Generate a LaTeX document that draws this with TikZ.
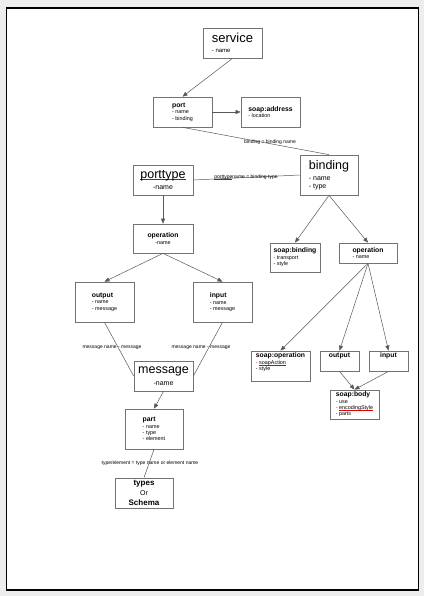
\documentclass[tikz,border=0pt]{standalone}
\usepackage{fontspec}
\setmainfont{Liberation Sans}
\usepackage{xcolor}
\usetikzlibrary{arrows.meta}

\newcommand{\bigtxt}{\fontsize{12.5}{13}\selectfont}
\newcommand{\subtxt}{\fontsize{7}{8}\selectfont}
\newcommand{\headtxt}{\fontsize{6.8}{7.5}\selectfont\bfseries}
\newcommand{\itemtxt}{\fontsize{5.4}{6.2}\selectfont}
\newcommand{\reddash}{{\color{red!85!black}-}}
\newcommand{\spellmark}[1]{\setbox0\hbox{#1}\rlap{\color{red!85!black}\rule[-0.9pt]{\wd0}{0.35pt}}\box0}

\begin{document}
\begin{tikzpicture}[x=1pt, y=-1pt,
    box/.style={draw=black!55, line width=0.7pt, fill=white, inner sep=2pt, align=left, font=\itemtxt},
    link/.style={draw=black!65, line width=0.5pt},
    arr/.style={link, -{Triangle[length=5pt, width=4pt]}},
    lbl/.style={font=\fontsize{5}{5.5}\selectfont, inner sep=0.5pt}]
    \useasboundingbox (0,0) rectangle (424,596);

    % Page
    \fill[black!7] (0,0) rectangle (424,596);
    \draw[fill=white, line width=1.1pt] (6.5,8) rectangle (418.5,590);

    % Service and port
    \node[box, minimum width=59pt, minimum height=30pt] (service) at (232.5,43)
        {{\fontsize{13}{13}\selectfont service}\\[3.5pt]{\fontsize{6}{7}\selectfont - name}};
    \node[box, minimum width=59pt, minimum height=30pt] (port) at (182.5,112)
        {{\headtxt port}\\[0.5pt]- name\\- binding};
    \node[box, minimum width=59pt, minimum height=30pt] (soapaddr) at (270.5,112)
        {{\headtxt soap:address}\\[0.5pt]- location};

    % Binding and porttype
    \node[box, minimum width=58pt, minimum height=40pt] (binding) at (329,175)
        {{\bigtxt binding}\\[4pt]{\subtxt - name}\\[2pt]{\subtxt - type}};
    \node[box, align=center, minimum width=60pt, minimum height=30pt] (porttype) at (163,180)
        {{\bigtxt \spellmark{porttype}}\\[4pt]{\subtxt -name}};

    % Port type side
    \node[box, align=center, minimum width=60pt, minimum height=29pt] (opleft) at (163,238.5)
        {{\headtxt operation}\\[0.5pt]-name};
    \node[box, minimum width=59pt, minimum height=40pt] (outleft) at (104.5,302)
        {{\headtxt output}\\[0.5pt]- name\\- message};
    \node[box, minimum width=59pt, minimum height=40pt] (inleft) at (222.5,302)
        {{\headtxt input}\\[0.5pt]- name\\- message};
    \node[box, align=center, minimum width=59pt, minimum height=30pt] (message) at (163.5,376)
        {{\bigtxt message}\\[4pt]{\subtxt -name}};
    \node[box, minimum width=58pt, minimum height=40pt] (part) at (154,429)
        {{\headtxt part}\\[0.5pt]- name\\- type\\- element};
    \node[box, align=center, minimum width=58pt, minimum height=30pt] (types) at (144,493)
        {{\fontsize{8}{8}\selectfont\bfseries types}\\[2.5pt]{\subtxt Or}\\[3pt]{\fontsize{8}{8}\selectfont\bfseries Schema}};

    % Binding side
    \node[box, minimum width=50pt, minimum height=29pt] (soapbind) at (295,257.5)
        {{\headtxt soap:binding}\\[0.5pt]- transport\\- style};
    \node[box, minimum width=58pt, minimum height=20pt] (opright) at (368,253)
        {{\headtxt operation}\\[0.5pt]- name};
    \node[box, minimum width=59pt, minimum height=30pt] (soapop) at (280.5,366)
        {{\headtxt soap:operation}\\[0.5pt]\reddash{} \spellmark{soapAction}\\- style\\[2pt]};
    \node[box, align=center, minimum width=39pt, minimum height=20pt] (outright) at (339.5,361)
        {{\headtxt output}\\[5pt]};
    \node[box, align=center, minimum width=39pt, minimum height=20pt] (inright) at (388.5,361)
        {{\headtxt input}\\[5pt]};
    \node[box, minimum width=49pt, minimum height=29pt] (soapbody) at (354.5,404.5)
        {{\headtxt soap:body}\\[0.5pt]\reddash{} use\\\reddash{} \spellmark{encodingStyle}\\- parts};

    % Connectors
    \draw[arr] (service.south) -- (port.north);
    \draw[arr] (port.east) -- (soapaddr.west);
    \draw[link] (port.south) -- (binding.north);
    \draw[link] (porttype.east) -- (binding.west);
    \draw[arr] (porttype.south) -- (opleft.north);
    \draw[arr] (opleft.south) -- (outleft.north);
    \draw[arr] (opleft.south) -- (inleft.north);
    \draw[link] (outleft.south) -- (message.west);
    \draw[link] (inleft.south) -- (message.east);
    \draw[arr] (message.south) -- (part.north);
    \draw[link] (part.south) -- (types.north);
    \draw[arr] (binding.south) -- (soapbind.north);
    \draw[arr] (binding.south) -- (opright.north);
    \foreach \target in {soapop, outright, inright}
        \draw[arr] (opright.south) -- (\target.north);
    \draw[arr] (outright.south) -- (soapbody.north);
    \draw[arr] (inright.south) -- (soapbody.north);

    % Connector labels
    \node[lbl] (lbind) at (270,142.5) {binding = binding name};
    \node[lbl] (lptype) at (246,177.5) {\spellmark{porttype} name = binding type};
    \node[lbl] (lmsgl) at (112,348) {message name - message};
    \node[lbl] (lmsgr) at (201,348) {message name - message};
    \node[lbl] (ltypes) at (150,463.5) {type/element = type name or element name};
\end{tikzpicture}
\end{document}
